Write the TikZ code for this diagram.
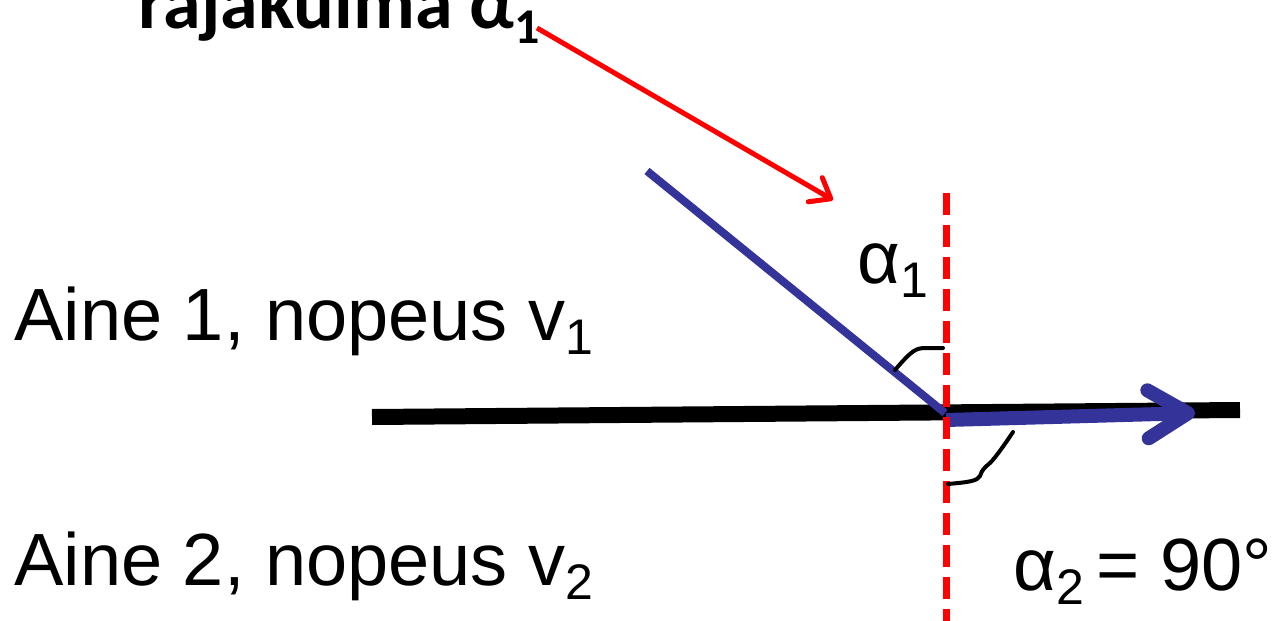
\documentclass[tikz,border=0pt]{standalone}
\usepackage{fontspec}
\setmainfont{Liberation Sans}
\newfontfamily\calibri{Carlito}
\usetikzlibrary{arrows.meta}
\definecolor{rayblue}{RGB}{51,51,153}
\tikzset{
  boundary/.style={line width=8pt},
  incray/.style={rayblue, line width=4pt},
  refray/.style={rayblue, line width=7pt,
    -{Straight Barb[length=20pt, width=24pt, round]}},
  normal/.style={red, line width=3.5pt, dash pattern=on 11pt off 5pt},
  pointer/.style={red, line width=2.5pt, -{Straight Barb[length=9pt, width=14pt, round]}},
  anglemark/.style={line width=2pt, line cap=round},
  txt/.style={inner sep=0pt, anchor=base west, font=\fontsize{37}{40}\selectfont}
}
\newcommand{\lowsub}[1]{\raisebox{-0.2em}{\fontsize{25}{26}\selectfont #1}}

\begin{document}
\begin{tikzpicture}[x=0.5pt, y=-0.5pt]
\useasboundingbox (0,0) rectangle (1276,621);
% points of the figure
\coordinate (bl) at (372,417);
\coordinate (br) at (1240,410);
\coordinate (start) at (647,171);
\coordinate (O) at (945,413);
\coordinate (Olow) at (946,420);
\coordinate (tip) at (1195,413);
\coordinate (ntop) at (946,193);
\coordinate (nbot) at (946,621);
\coordinate (ptrfrom) at (537,28);
\coordinate (ptrto) at (833,200);
% texts
\node[txt, font=\calibri\bfseries\fontsize{38}{40}\selectfont] (title) at (138,28)
  {rajakulma α\lowsub{1}};
\node[txt] (aine1) at (14,340) {Aine 1, nopeus v\lowsub{1}};
\node[txt] (aine2) at (14,585) {Aine 2, nopeus v\lowsub{2}};
\node[txt] (alpha1) at (857,283) {α\lowsub{1}};
\node[txt] (alpha2) at (1013,590) {α\lowsub{2}\,= 90°};
% lines
\draw[boundary] (bl) -- (br);
\draw[incray] (start) -- (O);
\draw[refray] (Olow) -- (tip);
\draw[normal] (ntop) -- (nbot);
\draw[pointer] (ptrfrom) -- (ptrto);
% angle marks
\draw[anglemark] (895,370) .. controls (912,350) and (916,348) .. (926,348) -- (943,348);
\draw[anglemark] (1013,432) .. controls (1003,447) and (995,458) .. (990,463)
  .. controls (984,468) and (982,470) .. (980,476)
  .. controls (977,481) and (970,482) .. (948,484);
\end{tikzpicture}
\end{document}
